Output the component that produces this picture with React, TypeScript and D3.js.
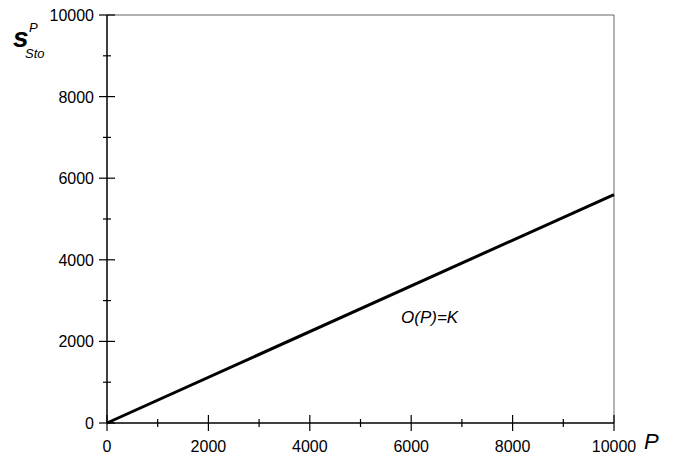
import React from "react";
import * as d3 from "d3";

// data
const xDomain = [0, 10000];
const yDomain = [0, 10000];
const majorTicks = [0, 2000, 4000, 6000, 8000, 10000];
const minorTicks = [1000, 3000, 5000, 7000, 9000];
const lineX = [0, 10000];
const lineY = [0, 5600];
const curveLabel = "O(P)=K";

const W = 680;
const H = 456;
const margin = { left: 107, right: 66, top: 15, bottom: 33 };
const font = "Liberation Sans, Arial, sans-serif";

export default function App() {
  const x = d3.scaleLinear().domain(xDomain).range([margin.left, W - margin.right]);
  const y = d3.scaleLinear().domain(yDomain).range([H - margin.bottom, margin.top]);
  const line = d3
    .line<number>()
    .x((d) => x(d))
    .y((d, i) => y(lineY[i]));

  const x0 = x(0);
  const y0 = y(0);

  return (
    <svg
      width={W}
      height={H}
      style={{ position: "absolute", left: 0, top: 0, background: "#fff" }}
      fontFamily={font}
    >
      {/* frame: top and right in grey */}
      <line x1={x0} x2={x(10000)} y1={y(10000)} y2={y(10000)} stroke="#666" strokeWidth={1} />
      <line x1={x(10000)} x2={x(10000)} y1={y(10000)} y2={y0} stroke="#666" strokeWidth={1} />

      {/* axes */}
      <line x1={x0} x2={x(10000)} y1={y0} y2={y0} stroke="#000" strokeWidth={1.5} />
      <line x1={x0} x2={x0} y1={y0} y2={y(10000)} stroke="#000" strokeWidth={1.5} />

      {majorTicks.map((t) => (
        <g key={"mx" + t}>
          <line x1={x(t)} x2={x(t)} y1={y0 - 8} y2={y0 + 8} stroke="#000" strokeWidth={1.2} />
          <text x={x(t)} y={y0 + 29} textAnchor="middle" fontSize={16}>
            {t}
          </text>
        </g>
      ))}
      {minorTicks.map((t) => (
        <line key={"nx" + t} x1={x(t)} x2={x(t)} y1={y0 - 4} y2={y0 + 4} stroke="#000" strokeWidth={1.2} />
      ))}

      {majorTicks.map((t) => (
        <g key={"my" + t}>
          <line x1={x0 - 8} x2={x0 + 8} y1={y(t)} y2={y(t)} stroke="#000" strokeWidth={1.2} />
          <text x={x0 - 13} y={y(t) + 6} textAnchor="end" fontSize={16}>
            {t}
          </text>
        </g>
      ))}
      {minorTicks.map((t) => (
        <line key={"ny" + t} x1={x0 - 4} x2={x0 + 4} y1={y(t)} y2={y(t)} stroke="#000" strokeWidth={1.2} />
      ))}

      <path d={line(lineX) || ""} fill="none" stroke="#000" strokeWidth={3} />

      <text x={x(5800)} y={y(2450)} fontSize={17} fontStyle="italic">
        {curveLabel}
      </text>

      {/* axis titles */}
      <text x={644} y={y0 + 26} fontSize={22} fontStyle="italic">
        P
      </text>
      <text x={13} y={47} fontSize={28} fontStyle="italic" fontWeight="bold">
        s
      </text>
      <text x={29} y={32} fontSize={13} fontStyle="italic">
        P
      </text>
      <text x={25} y={58} fontSize={13} fontStyle="italic">
        Sto
      </text>
    </svg>
  );
}
